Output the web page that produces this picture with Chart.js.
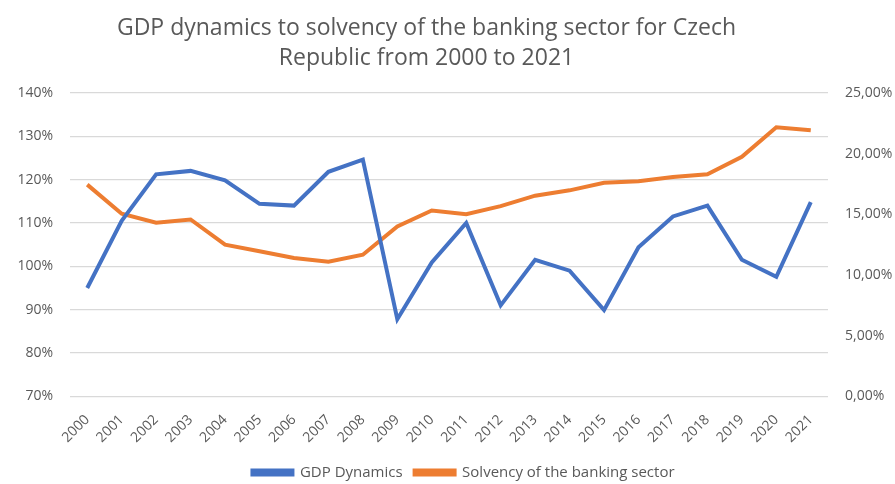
<!DOCTYPE html>
<html>
<head>
<meta charset="utf-8">
<script src="https://cdn.jsdelivr.net/npm/chart.js@4.4.1/dist/chart.umd.min.js"></script>
<style>
  html, body { margin: 0; padding: 0; background: #ffffff; }
  #wrap { width: 895px; height: 484px; position: relative; }
</style>
</head>
<body>
<div id="wrap"><canvas id="chart" width="895" height="484"></canvas></div>
<script>
// Years on the category axis
const years = ['2000','2001','2002','2003','2004','2005','2006','2007','2008','2009','2010',
               '2011','2012','2013','2014','2015','2016','2017','2018','2019','2020','2021'];

// GDP dynamics, percent (left axis)
const gdpDynamics = [95.0, 110.5, 121.2, 122.0, 119.8, 114.4, 114.0, 121.8, 124.6, 87.8, 100.9,
                     110.0, 91.0, 101.5, 99.0, 89.9, 104.4, 111.5, 114.0, 101.5, 97.6, 114.8];

// Solvency of the banking sector, percent (right axis)
const solvency = [17.44, 15.04, 14.30, 14.57, 12.50, 11.95, 11.40, 11.09, 11.67, 14.00, 15.31,
                  15.01, 15.67, 16.53, 16.97, 17.60, 17.72, 18.07, 18.29, 19.73, 22.16, 21.91];

const titleLines = ['GDP dynamics to solvency of the banking sector for Czech', 'Republic from 2000 to 2021'];

const FONT = 'Open Sans';
const GREY = '#595959';

// Nudge the title a little left and the legend a little right of the canvas centre
const boxShift = {
  id: 'boxShift',
  afterLayout(chart) {
    const t = chart.titleBlock, l = chart.legend;
    if (t) { t.left -= 21; t.right -= 21; }
    if (l) { l.left += 16; l.right += 16; }
  }
};

new Chart(document.getElementById('chart'), {
  type: 'line',
  data: {
    labels: years,
    datasets: [
      {
        label: 'GDP Dynamics',
        data: gdpDynamics,
        yAxisID: 'yLeft',
        borderColor: '#4472C4',
        backgroundColor: '#4472C4',
        borderWidth: 4,
        pointRadius: 0,
        tension: 0
      },
      {
        label: 'Solvency of the banking sector',
        data: solvency,
        yAxisID: 'yRight',
        borderColor: '#ED7D31',
        backgroundColor: '#ED7D31',
        borderWidth: 4,
        pointRadius: 0,
        tension: 0
      }
    ]
  },
  plugins: [boxShift],
  options: {
    responsive: false,
    animation: false,
    layout: { padding: { left: 0, right: 0, top: 0, bottom: -6 } },
    plugins: {
      title: {
        display: true,
        text: titleLines,
        color: GREY,
        font: { family: FONT, size: 23, weight: 'normal', lineHeight: 1.3 },
        padding: { top: 14, bottom: 19 }
      },
      legend: {
        position: 'bottom',
        labels: {
          color: GREY,
          font: { family: FONT, size: 15 },
          boxWidth: 40,
          boxHeight: 4,
          padding: 12
        }
      },
      tooltip: { enabled: false }
    },
    scales: {
      x: {
        offset: true,
        grid: { display: false },
        border: { display: false },
        ticks: {
          color: GREY,
          font: { family: FONT, size: 14 },
          maxRotation: 45,
          minRotation: 45,
          autoSkip: false,
          padding: 7
        }
      },
      yLeft: {
        position: 'left',
        min: 70,
        max: 140,
        grid: { color: '#D9D9D9', lineWidth: 1.3, drawTicks: false },
        border: { display: false },
        ticks: {
          stepSize: 10,
          color: GREY,
          font: { family: FONT, size: 14 },
          padding: 17,
          callback: v => v + '%'
        },
        afterFit: s => { s.width = 70; }
      },
      yRight: {
        position: 'right',
        min: 0,
        max: 25,
        grid: { display: false, drawTicks: false },
        border: { display: false },
        ticks: {
          stepSize: 5,
          color: GREY,
          font: { family: FONT, size: 14 },
          padding: 17,
          callback: v => v.toFixed(2).replace('.', ',') + '%'
        },
        afterFit: s => { s.width = 67; }
      }
    }
  }
});
</script>
</body>
</html>
